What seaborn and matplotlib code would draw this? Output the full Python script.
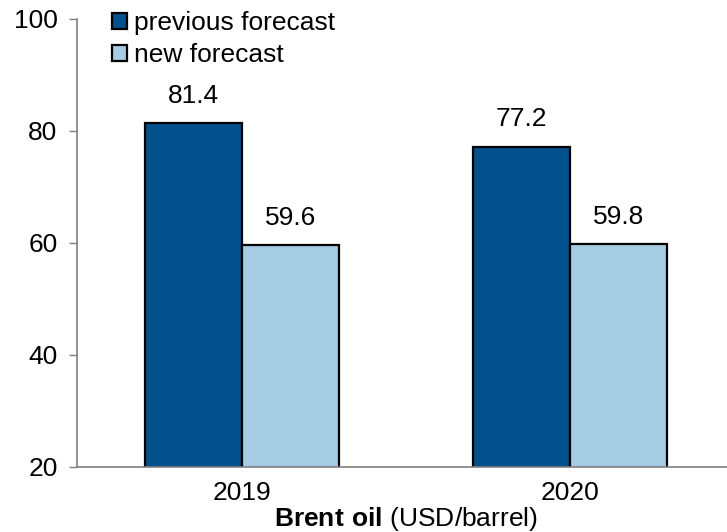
import matplotlib
matplotlib.use("Agg")
import matplotlib.pyplot as plt
import seaborn as sns
import pandas as pd

years = ["2019", "2020"]
series_names = ["previous forecast", "new forecast"]
previous_forecast = [81.4, 77.2]
new_forecast = [59.6, 59.8]
colors = ["#02508C", "#A6CCE4"]

df = pd.DataFrame({
    "year": years * 2,
    "series": [series_names[0]] * 2 + [series_names[1]] * 2,
    "value": previous_forecast + new_forecast,
})

sns.set_theme(style="white")
plt.rcParams["font.family"] = ["Liberation Sans", "DejaVu Sans"]
plt.rcParams["mathtext.fontset"] = "custom"
plt.rcParams["mathtext.rm"] = "Liberation Sans"
plt.rcParams["mathtext.bf"] = "Liberation Sans:bold"
plt.rcParams["text.color"] = "black"
plt.rcParams["xtick.color"] = "black"
plt.rcParams["ytick.color"] = "black"

FS = 19

fig = plt.figure(figsize=(7.27, 5.32), dpi=100)
ax = fig.add_axes([77 / 727, 1 - 467 / 532, 1 - 77 / 727, (467 - 19) / 532])

sns.barplot(data=df, x="year", y="value", hue="series", hue_order=series_names,
            palette=colors, width=0.59, gap=0, edgecolor="black", linewidth=1.6,
            saturation=1, ax=ax, legend=True)

ax.set_ylim(20, 100)
ax.set_xlim(-0.503, 1.479)
ax.set_yticks([20, 40, 60, 80, 100])
ax.tick_params(axis="y", which="both", left=True, length=6, width=1, color="#808080",
               labelcolor="black", labelsize=FS, pad=8, direction="out")
ax.tick_params(axis="x", bottom=False, labelsize=FS, labelcolor="black", pad=4)
for s in ["top", "right"]:
    ax.spines[s].set_visible(False)
for s in ["left", "bottom"]:
    ax.spines[s].set_color("#808080")
    ax.spines[s].set_linewidth(1.2)
ax.set_ylabel("")
ax.set_xlabel("")
fig.text(406 / 727, 1 - 519 / 532, r"$\bf{Brent\ oil}$ (USD/barrel)", fontsize=FS,
         ha="center", va="center", color="black")

for cont in ax.containers:
    ax.bar_label(cont, fmt="%.1f", padding=11, fontsize=FS, color="black")

leg = ax.legend(loc="upper left", bbox_to_anchor=(112 / 727, 1 - 11 / 532),
                bbox_transform=fig.transFigure, frameon=False, fontsize=FS,
                handlelength=0.55, handleheight=0.55, handletextpad=0.3,
                labelspacing=0.3, borderaxespad=0, borderpad=0)
for t in leg.get_texts():
    t.set_color("black")

fig.savefig("out.png", dpi=100)
